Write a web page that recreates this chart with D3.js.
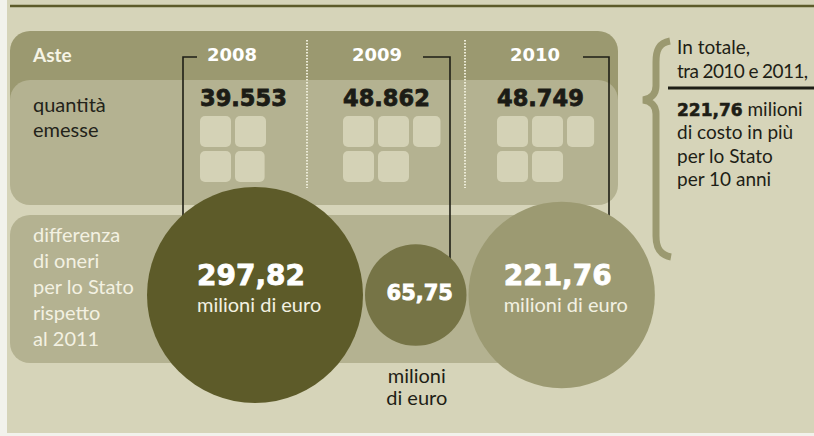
<!DOCTYPE html>
<html>
<head>
<meta charset="utf-8">
<script src="https://cdn.jsdelivr.net/npm/d3@7"></script>
<style>
  body { margin: 0; background: #f2f2ec; }
  svg { display: block; }
</style>
</head>
<body>
<div id="grafico"></div>
<script>
var anni = ['2008', '2009', '2010'];
var quantita = [39553, 48862, 48749];
var quantitaTxt = ['39.553', '48.862', '48.749'];
var oneri = [297.82, 65.75, 221.76];
var oneriTxt = ['297,82', '65,75', '221,76'];
var unitaTessera = 10000;
var etichetteSx = ['differenza', 'di oneri', 'per lo Stato', 'rispetto', 'al 2011'];
var testoDx = ['In totale,', 'tra 2010 e 2011,'];
var testoDx2 = ['di costo in più', 'per lo Stato', 'per 10 anni'];

var W = 814, H = 436;
var colBanda = '#9b9970', colChiaro = '#b4b291', colFondo = '#d6d4b9';
var colCerchi = ['#5d5b29', '#767446', '#9c9a72'];

var svg = d3.select('#grafico').append('svg')
    .attr('width', W)
    .attr('height', H);

// pannello
svg.append('rect').attr('x', 7).attr('y', 0).attr('width', W - 7).attr('height', 433).attr('fill', colFondo);
svg.append('line').attr('x1', 10).attr('x2', W).attr('y1', 6).attr('y2', 6)
    .attr('stroke', '#5d5b2a').attr('stroke-width', 2.5);

// scale
var xCol = d3.scaleOrdinal().domain(anni).range([200, 343, 497]);
var xAnno = d3.scaleOrdinal().domain(anni).range([232, 377, 535]);
var xAggancio = d3.scaleOrdinal().domain(anni).range([183, 450, 609]);
var xInizio = d3.scaleOrdinal().domain(anni).range([197, 423, 583]);
var rScala = d3.scaleSqrt().domain([0, d3.max(oneri)]).range([0, 108]);
var cy = 295, gap = 2;

var cx = [];
oneri.forEach(function (v, i) {
    if (i === 0) { cx.push(255); return; }
    cx.push(cx[i - 1] + rScala(oneri[i - 1]) + gap + rScala(v));
});

// bande
svg.append('rect').attr('x', 10).attr('y', 31).attr('width', 608).attr('height', 110).attr('rx', 20).attr('fill', colBanda);
svg.append('rect').attr('x', 10).attr('y', 80).attr('width', 608).attr('height', 125).attr('rx', 20).attr('fill', colChiaro);
svg.append('rect').attr('x', 10).attr('y', 215).attr('width', 612).attr('height', 148).attr('rx', 20).attr('fill', colChiaro);

svg.selectAll('line.divisore')
    .data([307, 465])
    .enter()
    .append('line')
    .attr('class', 'divisore')
    .attr('x1', function (d) { return d; })
    .attr('x2', function (d) { return d; })
    .attr('y1', 40)
    .attr('y2', 188)
    .attr('stroke', '#ecebd8')
    .attr('stroke-width', 2)
    .attr('stroke-dasharray', '1.5,1.5');

// collegamenti anno -> cerchio
svg.selectAll('path.aggancio')
    .data(anni)
    .enter()
    .append('path')
    .attr('class', 'aggancio')
    .attr('fill', 'none')
    .attr('stroke', '#1e1e16')
    .attr('stroke-width', 1.6)
    .attr('d', function (d) {
        return 'M' + xInizio(d) + ',57H' + xAggancio(d) + 'V' + cy;
    });

// cerchi
svg.selectAll('circle.onere')
    .data(oneri)
    .enter()
    .append('circle')
    .attr('class', 'onere')
    .attr('cx', function (d, i) { return cx[i]; })
    .attr('cy', cy)
    .attr('r', function (d) { return rScala(d); })
    .attr('fill', function (d, i) { return colCerchi[i]; });

svg.selectAll('text.valore')
    .data(oneriTxt)
    .enter()
    .append('text')
    .attr('class', 'valore')
    .attr('x', function (d, i) { return i === 1 ? cx[i] + 4 : cx[i] - 58; })
    .attr('y', function (d, i) { return i === 1 ? 300 : 285; })
    .attr('text-anchor', function (d, i) { return i === 1 ? 'middle' : 'start'; })
    .attr('font-family', 'DejaVu Sans')
    .attr('font-weight', 'bold')
    .attr('font-size', function (d, i) { return i === 1 ? 21 : 28; })
    .attr('fill', 'white')
    .attr('stroke', 'white')
    .attr('stroke-width', 0.8)
    .text(function (d) { return d; });

svg.selectAll('text.unita')
    .data(oneri.filter(function (d, i) { return i !== 1; }))
    .enter()
    .append('text')
    .attr('class', 'unita')
    .attr('x', function (d) { return cx[oneri.indexOf(d)] - 58; })
    .attr('y', 312)
    .attr('font-family', 'Lato')
    .attr('font-size', 20)
    .attr('fill', '#f3f1e2')
    .text('milioni di euro');

svg.selectAll('text.unita2')
    .data(['milioni', 'di euro'])
    .enter()
    .append('text')
    .attr('class', 'unita2')
    .attr('x', cx[1] + 1)
    .attr('y', function (d, i) { return 383 + i * 22; })
    .attr('text-anchor', 'middle')
    .attr('font-family', 'Lato')
    .attr('font-size', 20)
    .attr('fill', '#1e1e16')
    .text(function (d) { return d; });

// tessere quantita
var tessere = [];
quantita.forEach(function (q, i) {
    var n = Math.floor(q / unitaTessera);
    var resto = q / unitaTessera - n;
    for (var k = 0; k <= n; k++) {
        var f = k < n ? 1 : resto;
        if (f <= 0) continue;
        tessere.push({ anno: anni[i], pos: k, frazione: f });
    }
});
var lato = 31, passo = 35;
svg.selectAll('rect.tessera')
    .data(tessere)
    .enter()
    .append('rect')
    .attr('class', 'tessera')
    .attr('x', function (d) { var c = d.pos < 4 ? d.pos % 2 : 2; return xCol(d.anno) + c * passo; })
    .attr('y', function (d) { var r = d.pos < 4 ? Math.floor(d.pos / 2) : d.pos - 4; return 116 + r * passo; })
    .attr('width', function (d) { return lato * d.frazione; })
    .attr('height', lato)
    .attr('rx', 5)
    .attr('fill', '#d4d2b6');

svg.selectAll('text.quantita')
    .data(quantitaTxt)
    .enter()
    .append('text')
    .attr('class', 'quantita')
    .attr('x', function (d, i) { return xCol(anni[i]); })
    .attr('y', 106)
    .attr('font-family', 'DejaVu Sans')
    .attr('font-weight', 'bold')
    .attr('font-size', 22.5)
    .attr('fill', '#1c1c16')
    .attr('stroke', '#1c1c16')
    .attr('stroke-width', 0.8)
    .text(function (d) { return d; });

svg.selectAll('text.anno')
    .data(anni)
    .enter()
    .append('text')
    .attr('class', 'anno')
    .attr('x', function (d) { return xAnno(d); })
    .attr('y', 61)
    .attr('text-anchor', 'middle')
    .attr('font-family', 'DejaVu Sans')
    .attr('font-weight', 'bold')
    .attr('font-size', 18)
    .attr('fill', 'white')
    .text(function (d) { return d; });

// etichette a sinistra
svg.append('text').attr('x', 33).attr('y', 62)
    .attr('font-family', 'Lato').attr('font-weight', 'bold').attr('font-size', 19)
    .attr('fill', '#f6f4e6').text('Aste');

svg.selectAll('text.quant')
    .data(['quantità', 'emesse'])
    .enter()
    .append('text')
    .attr('class', 'quant')
    .attr('x', 33)
    .attr('y', function (d, i) { return 112 + i * 25; })
    .attr('font-family', 'Lato')
    .attr('font-size', 20)
    .attr('fill', '#23231a')
    .text(function (d) { return d; });

svg.selectAll('text.diff')
    .data(etichetteSx)
    .enter()
    .append('text')
    .attr('class', 'diff')
    .attr('x', 33)
    .attr('y', function (d, i) { return 242 + i * 26; })
    .attr('font-family', 'Lato')
    .attr('font-size', 20)
    .attr('fill', '#f3f1e2')
    .text(function (d) { return d; });

// parentesi e testo a destra
svg.append('path')
    .attr('d', 'M670,41C659,43 656,50 656,62L656,86C656,94 651,99 643,100C651,101 656,106 656,114L656,236C656,248 660,255 671,257')
    .attr('fill', 'none')
    .attr('stroke', colBanda)
    .attr('stroke-width', 7);

svg.selectAll('text.dx1')
    .data(testoDx)
    .enter()
    .append('text')
    .attr('class', 'dx1')
    .attr('x', 677)
    .attr('y', function (d, i) { return 54 + i * 24; })
    .attr('font-family', 'Lato')
    .attr('font-size', 19)
    .attr('letter-spacing', function (d, i) { return i === 1 ? -0.6 : 0; })
    .attr('fill', '#1e1e16')
    .text(function (d) { return d; });

svg.append('line').attr('x1', 668).attr('x2', W).attr('y1', 88).attr('y2', 88)
    .attr('stroke', '#1e1e16').attr('stroke-width', 3);

var riga = svg.append('text').attr('x', 677).attr('y', 116)
    .attr('font-family', 'Lato').attr('font-size', 19).attr('fill', '#1e1e16');
riga.append('tspan').attr('font-family', 'DejaVu Sans').attr('font-weight', 'bold').attr('font-size', 17)
    .attr('stroke', '#1e1e16').attr('stroke-width', 0.6).text(oneriTxt[2]);
riga.append('tspan').text(' milioni');

svg.selectAll('text.dx2')
    .data(testoDx2)
    .enter()
    .append('text')
    .attr('class', 'dx2')
    .attr('x', 677)
    .attr('y', function (d, i) { return 139 + i * 23.5; })
    .attr('font-family', 'Lato')
    .attr('font-size', 19)
    .attr('fill', '#1e1e16')
    .text(function (d) { return d; });
</script>
</body>
</html>
